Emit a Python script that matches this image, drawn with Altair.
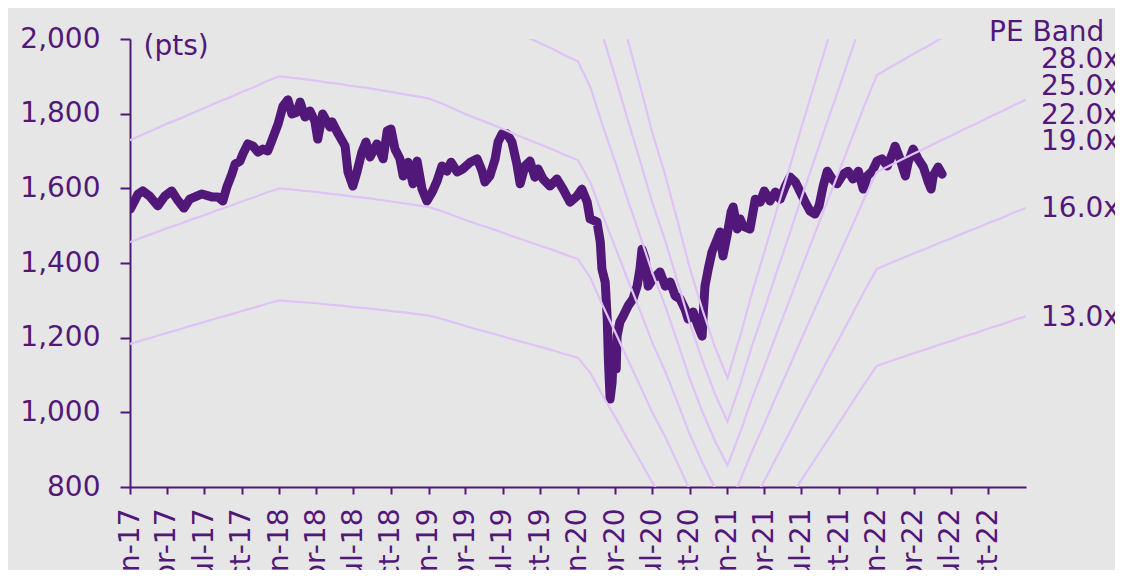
import altair as alt
import pandas as pd

# ---------------- data ----------------
index_dates = [
    "2017-01-02", "2017-01-21", "2017-02-01", "2017-02-18", "2017-03-10", "2017-03-27",
    "2017-04-13", "2017-04-26", "2017-05-13", "2017-05-27", "2017-06-26", "2017-07-20",
    "2017-08-04", "2017-08-16", "2017-08-26", "2017-09-07", "2017-09-15", "2017-09-27",
    "2017-10-04", "2017-10-16", "2017-10-29", "2017-11-10", "2017-11-22", "2017-12-04",
    "2017-12-17", "2017-12-29", "2018-01-10", "2018-01-22", "2018-02-01", "2018-02-13",
    "2018-02-21", "2018-03-05", "2018-03-17", "2018-03-29", "2018-04-05", "2018-04-17",
    "2018-05-05", "2018-05-10", "2018-05-25", "2018-06-11", "2018-06-18", "2018-06-30",
    "2018-07-10", "2018-07-22", "2018-08-01", "2018-08-11", "2018-08-28", "2018-09-12",
    "2018-09-22", "2018-10-01", "2018-10-11", "2018-10-23", "2018-10-31", "2018-11-12",
    "2018-11-24", "2018-12-04", "2018-12-16", "2018-12-28", "2019-01-10", "2019-01-22",
    "2019-02-03", "2019-02-15", "2019-02-25", "2019-03-12", "2019-03-26", "2019-04-13",
    "2019-04-30", "2019-05-12", "2019-05-19", "2019-05-31", "2019-06-13", "2019-06-20",
    "2019-06-30", "2019-07-12", "2019-07-24", "2019-08-05", "2019-08-13", "2019-08-25",
    "2019-09-06", "2019-09-18", "2019-09-26", "2019-10-08", "2019-10-25", "2019-11-11",
    "2019-11-26", "2019-12-13", "2019-12-30", "2020-01-11", "2020-01-24", "2020-01-31",
    "2020-02-17", "2020-02-25", "2020-02-29", "2020-03-08", "2020-03-13", "2020-03-16",
    "2020-03-20", "2020-03-25", "2020-03-27", "2020-04-04", "2020-04-06", "2020-04-13",
    "2020-04-21", "2020-05-03", "2020-05-15", "2020-05-25", "2020-06-01", "2020-06-06",
    "2020-06-14", "2020-06-21", "2020-07-03", "2020-07-20", "2020-08-02", "2020-08-14",
    "2020-08-26", "2020-09-07", "2020-09-19", "2020-09-27", "2020-10-09", "2020-10-21",
    "2020-10-31", "2020-11-03", "2020-11-07", "2020-11-15", "2020-11-24", "2020-12-07",
    "2020-12-14", "2020-12-21", "2020-12-31", "2021-01-10", "2021-01-15", "2021-01-25",
    "2021-02-01", "2021-02-08", "2021-02-25", "2021-03-10", "2021-03-22", "2021-04-01",
    "2021-04-15", "2021-04-28", "2021-05-10", "2021-05-22", "2021-06-03", "2021-06-16",
    "2021-06-28", "2021-07-10", "2021-07-22", "2021-08-03", "2021-08-13", "2021-08-23",
    "2021-09-02", "2021-09-14", "2021-09-26", "2021-10-11", "2021-10-23", "2021-11-04",
    "2021-11-17", "2021-11-29", "2021-12-09", "2021-12-21", "2022-01-02", "2022-01-14",
    "2022-01-27", "2022-02-08", "2022-02-15", "2022-02-27", "2022-03-12", "2022-03-19",
    "2022-03-31", "2022-04-12", "2022-04-25", "2022-05-07", "2022-05-14", "2022-05-19",
    "2022-05-31", "2022-06-10",
]
index_values = [
    1545, 1585, 1593, 1579, 1553, 1579,
    1593, 1571, 1547, 1571, 1585, 1577,
    1577, 1566, 1604, 1638, 1665, 1673,
    1692, 1719, 1713, 1697, 1705, 1700,
    1737, 1772, 1820, 1837, 1799, 1804,
    1831, 1791, 1807, 1780, 1732, 1799,
    1764, 1778, 1746, 1713, 1644, 1606,
    1644, 1697, 1724, 1684, 1719, 1679,
    1754, 1759, 1705, 1679, 1633, 1670,
    1612, 1673, 1598, 1566, 1590, 1620,
    1660, 1646, 1670, 1644, 1652, 1670,
    1679, 1646, 1617, 1633, 1679, 1724,
    1746, 1746, 1724, 1665, 1612, 1660,
    1673, 1630, 1652, 1625, 1606, 1625,
    1598, 1563, 1579, 1598, 1563, 1518,
    1510, 1456, 1384, 1349, 1250, 1135,
    1036, 1081, 1135, 1116, 1204, 1242,
    1258, 1285, 1304, 1338, 1384, 1437,
    1411, 1338, 1357, 1376, 1338, 1349,
    1312, 1304, 1277, 1250, 1269, 1231,
    1204, 1269, 1338, 1384, 1429, 1464,
    1483, 1419, 1474, 1537, 1550, 1491,
    1518, 1499, 1491, 1571, 1563, 1593,
    1566, 1590, 1571, 1604, 1630, 1617,
    1590, 1563, 1539, 1531, 1553, 1606,
    1646, 1625, 1612, 1638, 1646, 1625,
    1646, 1598, 1633, 1646, 1673, 1679,
    1660, 1692, 1713, 1679, 1633, 1670,
    1705, 1679, 1657, 1617, 1598, 1633,
    1657, 1638,
]

# forward EPS (pts), month starts Jan-17 .. Jan-23
eps_months = [f"{y}-{m:02d}-01" for y in range(2017, 2023) for m in range(1, 13)] + ["2023-01-01"]
eps_values = [
    91.0, 91.8, 92.5, 93.3, 94.0, 94.8, 95.5, 96.3, 97.0, 97.8, 98.5, 99.3,
    100.0, 99.8, 99.6, 99.4, 99.1, 98.9, 98.6, 98.4, 98.1, 97.8, 97.5, 97.2,
    96.9, 96.2, 95.5, 94.7, 94.0, 93.3, 92.6, 91.8, 91.1, 90.4, 89.7, 88.9,
    88.2, 85.0, 80.5, 76.0, 71.5, 67.0, 62.5, 58.5, 54.0, 49.5, 45.5, 42.0,
    39.0, 43.0, 47.0, 51.0, 55.0, 59.0, 63.0, 67.0, 71.0, 74.8, 78.8, 82.7,
    86.5, 87.4, 88.2, 89.1, 89.9, 90.8, 91.6, 92.5, 93.3, 94.2, 95.0, 95.9,
    96.7,
]

pe_multiples = [28, 25, 22, 19, 16, 13]
pe_labels = ["28.0x", "25.0x", "22.0x", "19.0x", "16.0x", "13.0x"]
pe_label_pts = [1944, 1871, 1794, 1724, 1545, 1253]

y_ticks = [800, 1000, 1200, 1400, 1600, 1800, 2000]
x_tick_dates = [f"{y}-{m:02d}-01" for y in range(2017, 2023) for m in (1, 4, 7, 10)]

# ---------------- tables ----------------
df_idx = pd.DataFrame({"date": index_dates, "value": index_values})
df_band = pd.DataFrame(
    [{"date": d, "multiple": m, "value": e * m}
     for m in pe_multiples for d, e in zip(eps_months, eps_values)]
)
df_lab = pd.DataFrame({"label": pe_labels, "pos": pe_label_pts})

# ---------------- style ----------------
W, H = 896, 448
PURPLE = "#521879"
TEXT = "#521879"
BAND = "#dfc3f7"
BG = "#e6e6e6"
FONT = "DejaVu Sans"
FS = 28


def ms(d):
    return int(pd.Timestamp(d, tz="UTC").value // 10**6)


x_scale = alt.Scale(type="utc", domain=[ms("2017-01-01"), ms("2023-01-01")])
y_scale = alt.Scale(domain=[800, 2000], nice=False, zero=False)

x_axis = alt.Axis(
    values=[ms(d) for d in x_tick_dates], tickCount=60, format="%b-%y",
    labelAngle=-90, tickSize=7, labelPadding=14, labelFlush=False,
    labelOverlap=False, labelBound=False, title=None,
)
y_axis = alt.Axis(
    values=y_ticks, format=",.0f", tickSize=10, labelPadding=20,
    title="(pts)", titleAngle=0, titleX=13, titleY=7, titleAlign="left",
    titleBaseline="middle", titleFont=FONT, titleFontSize=FS,
    titleFontWeight="normal", titleColor=TEXT,
)

idx = alt.Chart(df_idx).mark_line(
    color=PURPLE, strokeWidth=9, strokeCap="round", strokeJoin="round", clip=True
).encode(
    x=alt.X("date:T", scale=x_scale, axis=x_axis),
    y=alt.Y("value:Q", scale=y_scale, axis=y_axis),
)

bands = alt.Chart(df_band).mark_line(color=BAND, strokeWidth=2.2, clip=True).encode(
    x=alt.X("date:T", scale=x_scale),
    y=alt.Y("value:Q", scale=y_scale),
    detail="multiple:N",
)

labels = alt.Chart(df_lab).mark_text(
    align="left", baseline="middle", font=FONT, fontSize=FS, color=TEXT
).encode(
    x=alt.value(W + 15),
    y=alt.Y("pos:Q", scale=y_scale),
    text="label:N",
)

head = alt.Chart(pd.DataFrame({"t": ["PE Band"]})).mark_text(
    align="left", baseline="middle", font=FONT, fontSize=FS, color=TEXT
).encode(x=alt.value(859), y=alt.value(-6), text="t:N")

chart = alt.layer(idx, bands, labels, head).properties(
    width=W, height=H, background=BG,
    padding={"left": 122, "top": 31, "right": 89, "bottom": 83},
    autosize=alt.AutoSizeParams(type="none"),
).configure_view(stroke=None).configure_axis(
    grid=False, domainColor=TEXT, domainWidth=2, tickColor=TEXT, tickWidth=2,
    labelColor=TEXT, labelFont=FONT, labelFontSize=FS,
)

chart.save("out.html", embed_options={"renderer": "svg", "actions": False})
